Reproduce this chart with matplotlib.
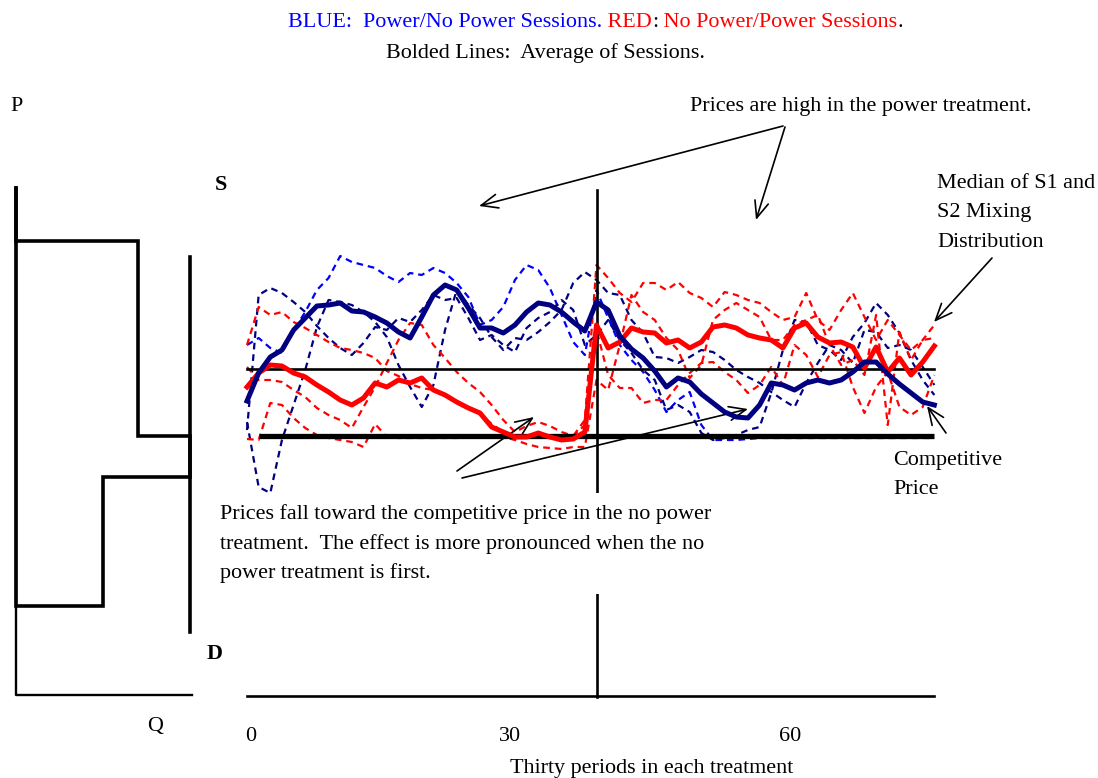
import matplotlib.pyplot as plt

SERIF = "Liberation Serif"
W, H = 1098, 778

# thirty periods in each treatment; second treatment starts at period 31
periods = list(range(1, 61))
switch_period = 31

# prices (arbitrary units: competitive price = 100)
competitive = 100
median = 167

blue_avg = [135, 163, 179, 186, 206, 218, 230, 231, 233, 225, 224, 219, 213, 204, 198,
            219, 241, 251, 246, 228, 208, 208, 203, 211, 224, 233, 231, 224, 214, 205,
            234, 226, 200, 187, 178, 165, 149, 158, 154, 142, 133, 124, 119, 118, 131,
            153, 151, 146, 153, 156, 153, 156, 164, 174, 174, 162, 152, 143, 134, 131]
red_avg = [149, 163, 171, 170, 163, 159, 151, 144, 136, 131, 138, 153, 149, 156, 153,
           158, 146, 141, 134, 128, 123, 109, 104, 99, 99, 103, 99, 96, 97, 104,
           211, 188, 194, 208, 204, 203, 193, 196, 188, 194, 209, 211, 208, 201, 198,
           196, 188, 208, 213, 199, 193, 194, 189, 168, 189, 164, 178, 161, 174, 190]

# power / no power sessions
blue_s1 = [191, 198, 188, 183, 206, 224, 246, 258, 280, 274, 271, 268, 260, 254, 263,
           261, 268, 263, 253, 239, 211, 216, 229, 256, 271, 266, 248, 221, 194, 181,
           246, 218, 191, 176, 164, 146, 124, 136, 144, 111, 96, 96, 96, 97, 98,
           98, 98, 98, 98, 98, 98, 98, 98, 98, 98, 98, 98, 98, 98, 98]
blue_s2 = [114, 49, 43, 96, 131, 166, 209, 236, 234, 231, 224, 214, 199, 171, 149,
           129, 151, 206, 246, 231, 218, 199, 186, 198, 196, 204, 214, 226, 253, 264,
           256, 243, 241, 216, 203, 179, 178, 173, 179, 186, 184, 176, 166, 159, 153,
           144, 136, 129, 153, 173, 191, 186, 173, 206, 204, 188, 191, 186, 169, 151]
blue_s3 = [106, 241, 248, 243, 234, 224, 210, 198, 188, 181, 193, 209, 206, 218, 214,
           226, 241, 236, 238, 218, 196, 201, 191, 184, 208, 218, 224, 236, 226, 191,
           201, 216, 196, 183, 166, 156, 126, 131, 124, 103, 96, 98, 101, 106, 109,
           143, 186, 216, 214, 191, 186, 176, 199, 213, 233, 221, 203, 176, 156, 141]

# no power / power sessions
red_s1 = [191, 229, 221, 224, 214, 208, 201, 194, 188, 186, 183, 178, 165, 160, 152,
          148, 146, 140, 135, 128, 122, 112, 104, 100, 99, 99, 99, 99, 100, 116,
          271, 258, 243, 234, 253, 253, 246, 254, 243, 238, 229, 244, 241, 236, 233,
          224, 216, 219, 243, 216, 206, 226, 243, 219, 196, 216, 201, 186, 196, 211]
red_s2 = [169, 156, 156, 154, 146, 139, 128, 121, 116, 108, 129, 149, 173, 196, 213,
          211, 191, 178, 164, 153, 144, 131, 116, 104, 110, 114, 110, 104, 100, 111,
          206, 161, 148, 148, 133, 136, 136, 151, 163, 173, 174, 164, 156, 143, 151,
          169, 151, 191, 181, 159, 181, 184, 149, 123, 149, 164, 129, 121, 129, 161]
red_s3 = [97, 96, 133, 131, 118, 108, 101, 98, 96, 94, 89, 112, 99, 98, 98,
          98, 98, 98, 98, 99, 99, 99, 99, 96, 92, 89, 88, 87, 89, 89,
          156, 146, 191, 241, 224, 216, 198, 186, 158, 171, 216, 226, 233, 226, 219,
          196, 196, 211, 216, 221, 191, 171, 176, 161, 221, 111, 204, 176, 196, 198]

# supply and demand schedules (quantity, price)
demand_q = [0, 0, 7, 7, 10, 10]
demand_p = [348, 295, 295, 100, 100, -96]
supply_q = [0, 0, 5, 5, 10, 10]
supply_p = [348, -70, -70, 59, 59, 279]

NAVY = "#000080"
BLUE = "#0000FF"
RED = "#FF0000"


def at(px, py):
    return px / W, 1 - py / H


fig = plt.figure(figsize=(W / 100, H / 100), dpi=100)

# time series axes covers the whole figure
ax = fig.add_axes([0, 0, 1, 1])
ax.set_xlim(1 - 247 / 11.65, 1 + (W - 247) / 11.65)
ax.set_ylim(536 - H, 536)
ax.axis("off")

dash = (0, (3, 2.2))
for s, c in [(blue_s1, BLUE), (blue_s2, NAVY), (blue_s3, NAVY),
             (red_s1, RED), (red_s2, RED), (red_s3, RED)]:
    ax.plot(periods, s, color=c, lw=1.6, linestyle=dash, zorder=2)

ax.plot([periods[0], periods[-1]], [median, median], color="black", lw=1.9, zorder=3)
ax.plot([periods[1], periods[-1]], [competitive, competitive], color="black",
        lw=3.8, solid_capstyle="butt", zorder=3)

ax.plot(periods, red_avg, color=RED, lw=3.6, zorder=4)
ax.plot(periods, blue_avg, color=NAVY, lw=3.6, zorder=5)

# treatment divider and time axis
ax.plot([switch_period, switch_period], [346, -161], color="black", lw=1.9, zorder=3)
ax.plot([periods[0], periods[-1]], [-160, -160], color="black", lw=1.9, zorder=3)

# supply / demand diagram
ax_sd = fig.add_axes([0, 0, 1, 1])
ax_sd.patch.set_alpha(0)
ax_sd.set_xlim(-16 / 17.4, (W - 16) / 17.4)
ax_sd.set_ylim(536 - H, 536)
ax_sd.axis("off")
ax_sd.plot([0, 0, 10.1], [348, -159, -159], color="black", lw=1.7)
ax_sd.plot(demand_q, demand_p, color="black", lw=2.6, solid_joinstyle="miter")
ax_sd.plot(supply_q, supply_p, color="black", lw=2.6, solid_joinstyle="miter")

FS = 15.9
txt = dict(family=SERIF, fontsize=FS, va="baseline")

# colored heading
parts = [("BLUE:  Power/No Power Sessions.", BLUE), (" RED", RED), (":", "black"),
         (" No Power/Power Sessions", RED), (".", "black")]
t = fig.text(*at(288, 32), parts[0][0], color=parts[0][1], family=SERIF,
             fontsize=FS, va="bottom")
for s, c in parts[1:]:
    t = ax.annotate(s, xy=(1, 0), xycoords=t, va="bottom", color=c,
                    family=SERIF, fontsize=FS)

fig.text(*at(386, 58), "Bolded Lines:  Average of Sessions.", **txt)
fig.text(*at(10, 111), "P", **txt)
fig.text(*at(147, 731), "Q", **txt)
fig.text(*at(690, 111), "Prices are high in the power treatment.", **txt)
fig.text(*at(215, 190), "S", fontweight="bold", **txt)
fig.text(*at(207, 659), "D", fontweight="bold", **txt)
fig.text(*at(937, 174), "Median of S1 and\nS2 Mixing\nDistribution",
         linespacing=1.75, va="top", family=SERIF, fontsize=FS)
fig.text(*at(893, 451), "Competitive\nPrice", linespacing=1.75, va="top",
         family=SERIF, fontsize=FS)
fig.text(*at(220, 504),
         "Prices fall toward the competitive price in the no power\n"
         "treatment.  The effect is more pronounced when the no\n"
         "power treatment is first.",
         linespacing=1.65, va="top", family=SERIF, fontsize=FS, zorder=6,
         bbox=dict(boxstyle="square,pad=0.5", fc="white", ec="none"))

for lab, px in [("0", 251), ("30", 510), ("60", 790)]:
    fig.text(*at(px, 741), lab, ha="center", **txt)
fig.text(*at(652, 773), "Thirty periods in each treatment", ha="center", **txt)

# arrows (tail -> head, in figure pixels)
arrows = [((783, 126), (479, 206)), ((785, 127), (756, 220)),
          ((992, 258), (934, 322)), ((946, 433), (927, 406)),
          ((457, 471), (534, 417)), ((462, 478), (748, 409))]
for tail, head in arrows:
    ax.annotate("", xy=at(*head), xytext=at(*tail), xycoords="figure fraction",
                textcoords="figure fraction",
                arrowprops=dict(arrowstyle="->,head_length=0.6,head_width=0.25",
                                color="black", lw=1.2, mutation_scale=20,
                                shrinkA=0, shrinkB=0))

fig.savefig("out.png", dpi=100)
